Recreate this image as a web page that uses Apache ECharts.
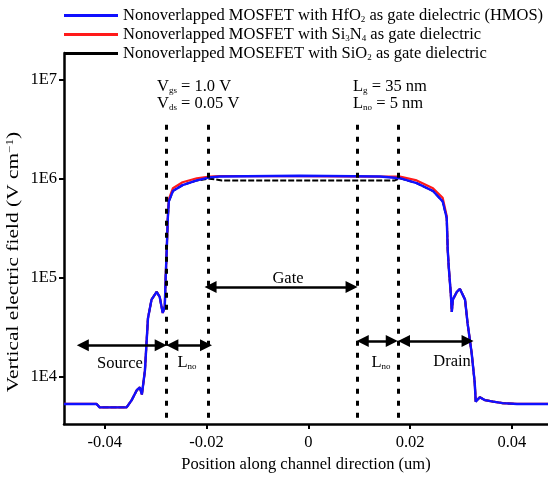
<!DOCTYPE html>
<html><head><meta charset="utf-8">
<script src="https://cdn.jsdelivr.net/npm/echarts@6/dist/echarts.min.js"></script>
<style>html,body{margin:0;padding:0;background:#fff}#c{width:548px;height:478px}</style>
</head><body><div id="c"></div><script>
// Position along channel (um) and vertical electric field (V/cm)
const blueX = [-0.0480,-0.0416,-0.0410,-0.0357,-0.0347,-0.0337,-0.0331,-0.0327,-0.0321,-0.0315,-0.0308,-0.0298,-0.0292,-0.0286,-0.0282,-0.0280,-0.0278,-0.0276,-0.0274,-0.0266,-0.0247,-0.0219,-0.0194,-0.0174,-0.0017,0.0141,0.0180,0.0213,0.0245,0.0264,0.0272,0.0274,0.0276,0.0280,0.0282,0.0284,0.0292,0.0298,0.0308,0.0313,0.0321,0.0327,0.0329,0.0337,0.0347,0.0363,0.0382,0.0410,0.0471];
const blueE = [5.3e3,5.3e3,4.9e3,4.9e3,5.8e3,7.3e3,7.8e3,6.6e3,1.15e4,3.9e4,6.0e4,7.2e4,6.4e4,4.4e4,5.1e4,1.09e5,2.0e5,4.0e5,5.9e5,7.5e5,8.6e5,9.6e5,1.03e6,1.05e6,1.07e6,1.05e6,1.01e6,9.0e5,7.5e5,5.9e5,4.0e5,1.9e5,1.28e5,6.9e4,4.5e4,6.0e4,7.2e4,7.7e4,6.0e4,3.45e4,1.73e4,8.7e3,5.6e3,6.2e3,5.8e3,5.6e3,5.4e3,5.3e3,5.3e3];
const redX = blueX;
const redE = [5.3e3,5.3e3,4.9e3,4.9e3,5.8e3,7.3e3,7.8e3,6.6e3,1.15e4,3.9e4,6.0e4,7.2e4,6.4e4,4.4e4,5.1e4,1.09e5,2.0e5,4.0e5,6.2e5,8.0e5,9.2e5,1.01e6,1.05e6,1.06e6,1.06e6,1.05e6,1.05e6,9.6e5,8.0e5,6.4e5,4.2e5,1.9e5,1.28e5,6.9e4,4.5e4,6.0e4,7.2e4,7.7e4,6.0e4,3.45e4,1.73e4,8.7e3,5.6e3,6.2e3,5.8e3,5.6e3,5.4e3,5.3e3,5.3e3];
const blackX = [-0.0480,-0.0416,-0.0410,-0.0357,-0.0347,-0.0337,-0.0331,-0.0327,-0.0321,-0.0315,-0.0308,-0.0298,-0.0292,-0.0286,-0.0282,-0.0280,-0.0278,-0.0276,-0.0274,-0.0266,-0.0247,-0.0219,-0.0194,-0.0170,0.0170,0.0180,0.0213,0.0245,0.0264,0.0272,0.0274,0.0276,0.0280,0.0282,0.0284,0.0292,0.0298,0.0308,0.0313,0.0321,0.0327,0.0329,0.0337,0.0347,0.0363,0.0382,0.0410,0.0471];
const blackE = [5.3e3,5.3e3,4.9e3,4.9e3,5.8e3,7.3e3,7.8e3,6.6e3,1.15e4,3.9e4,6.0e4,7.2e4,6.4e4,4.4e4,5.1e4,1.09e5,2.0e5,4.0e5,5.9e5,7.5e5,8.6e5,9.6e5,1.0e6,9.6e5,9.6e5,1.01e6,9.0e5,7.5e5,5.9e5,4.0e5,1.9e5,1.28e5,6.9e4,4.5e4,6.0e4,7.2e4,7.7e4,6.0e4,3.45e4,1.73e4,8.7e3,5.6e3,6.2e3,5.8e3,5.6e3,5.4e3,5.3e3,5.3e3];
const seriesNames = [
  'Nonoverlapped MOSFET with HfO{sub|2} as gate dielectric (HMOS)',
  'Nonoverlapped MOSFET with Si{sub|3}N{sub|4} as gate dielectric',
  'Nonoverlapped MOSEFET with SiO{sub|2} as gate dielectric'
];
const xTicks = [-0.04, -0.02, 0, 0.02, 0.04];
const yTickExp = [4, 5, 6, 7];
// region boundaries (um) and annotation arrows [x1, x2, field]
const dividerX = [-0.0279, -0.0197, 0.0096, 0.0176];
const dividerTopE = 3.5e6;
const arrows = [
  [-0.0443, -0.0290, 2.08e4],
  [-0.0267, -0.0201, 2.08e4],
  [-0.0192, 0.0085, 8.07e4],
  [0.0107, 0.0164, 2.29e4],
  [0.0188, 0.0313, 2.29e4]
];
const X_MIN = -0.0480, X_MAX = 0.0471, Y_MIN = 3.521, Y_MAX = 7.269;

const FONT = '"Liberation Serif", "Times New Roman", serif';
const FS = 16.5;
const lg = Math.log10;
const pts = (xs, es) => xs.map((x, i) => [x, lg(es[i])]);
const subRich = { sub: { fontSize: 9, fontFamily: FONT, verticalAlign: 'bottom', color: '#000' } };

const chart = echarts.init(document.getElementById('c'), null, { renderer: 'canvas' });
const lineBase = { type: 'line', showSymbol: false, symbol: 'none', silent: true, animation: false };

function txt(x, y, text, align, extra) {
  return Object.assign({ type: 'text', x: x, y: y, silent: true,
    style: { text: text, fontSize: FS, fontFamily: FONT, fill: '#000', align: align || 'left', verticalAlign: 'middle',
      rich: { s: { fontSize: 9, fontFamily: FONT, verticalAlign: 'bottom', fill: '#000' },
              p: { fontSize: 10, fontFamily: FONT, verticalAlign: 'top', fill: '#000' } } } }, extra || {});
}

chart.setOption({
  animation: false,
  grid: { left: 64, right: 0, top: 53, bottom: 49 },
  legend: {
    orient: 'vertical', left: 64, top: 7, padding: 0, itemGap: 2, itemWidth: 54, itemHeight: 3, icon: 'rect',
    data: [
      { name: seriesNames[0], itemStyle: { color: '#1010ff' } },
      { name: seriesNames[1], itemStyle: { color: '#ff1a1a' } },
      { name: seriesNames[2], itemStyle: { color: '#000' } }
    ],
    textStyle: { fontFamily: FONT, fontSize: FS, color: '#000', lineHeight: 17, rich: subRich },
    selectedMode: false
  },
  xAxis: {
    type: 'value', min: X_MIN, max: X_MAX,
    name: 'Position along channel direction (um)', nameLocation: 'middle', nameGap: 31,
    nameTextStyle: { fontFamily: FONT, fontSize: FS, color: '#000' },
    axisLine: { onZero: false, lineStyle: { color: '#000', width: 2.5 } },
    axisTick: { show: true, length: 5, lineStyle: { color: '#000', width: 2 }, customValues: xTicks },
    axisLabel: { customValues: xTicks, fontFamily: FONT, fontSize: FS, color: '#000', margin: 10,
      formatter: v => Math.abs(v) < 1e-9 ? '0' : v.toFixed(2) },
    splitLine: { show: false }
  },
  yAxis: {
    type: 'value', min: Y_MIN, max: Y_MAX,
    axisLine: { show: true, onZero: false, lineStyle: { color: '#000', width: 2.5 } },
    axisTick: { show: true, length: 5, lineStyle: { color: '#000', width: 2 }, customValues: yTickExp },
    axisLabel: { customValues: yTickExp, fontFamily: FONT, fontSize: FS, color: '#000', margin: 7,
      formatter: v => '1E' + Math.round(v) },
    splitLine: { show: false }
  },
  series: [
    Object.assign({}, lineBase, { name: seriesNames[2], data: pts(blackX, blackE), z: 2,
      lineStyle: { color: '#000', width: 2, type: [6, 2] }, itemStyle: { color: '#000' } }),
    Object.assign({}, lineBase, { name: seriesNames[1], data: pts(redX, redE), z: 3,
      lineStyle: { color: '#ff1a1a', width: 2.2 }, itemStyle: { color: '#ff1a1a' } }),
    Object.assign({}, lineBase, { name: seriesNames[0], data: pts(blueX, blueE), z: 4,
      lineStyle: { color: '#1010ff', width: 2.4 }, itemStyle: { color: '#1010ff' } }),
    Object.assign({}, lineBase, { name: 'dividers', data: [], z: 5,
      markLine: { silent: true, animation: false, symbol: ['none', 'none'], label: { show: false },
        lineStyle: { color: '#000', width: 3, type: [5, 7] },
        emphasis: { disabled: true },
        data: dividerX.map(x => [{ coord: [x, lg(dividerTopE)] }, { coord: [x, Y_MIN] }]) } }),
    Object.assign({}, lineBase, { name: 'arrows', data: [], z: 6,
      markLine: { silent: true, animation: false, symbol: ['triangle', 'triangle'],
        symbolSize: 12, label: { show: false },
        lineStyle: { color: '#000', width: 2.5, type: 'solid' },
        itemStyle: { color: '#000' },
        emphasis: { disabled: true },
        data: arrows.map(a => [{ coord: [a[0], lg(a[2])] }, { coord: [a[1], lg(a[2])] }]) } })
  ],
  graphic: [
    txt(14, 262, 'Vertical electric field (V cm{p|\u22121})', 'center', { rotation: Math.PI / 2, scaleX: 1.3 }),
    txt(157, 87, 'V{s|gs} = 1.0 V'),
    txt(157, 104, 'V{s|ds} = 0.05 V'),
    txt(353, 87, 'L{s|g} = 35 nm'),
    txt(353, 104, 'L{s|no} = 5 nm'),
    txt(288, 279, 'Gate', 'center'),
    txt(120, 364, 'Source', 'center'),
    txt(187, 363, 'L{s|no}', 'center'),
    txt(381, 363, 'L{s|no}', 'center'),
    txt(452, 362, 'Drain', 'center')
  ]
});
</script></body></html>
